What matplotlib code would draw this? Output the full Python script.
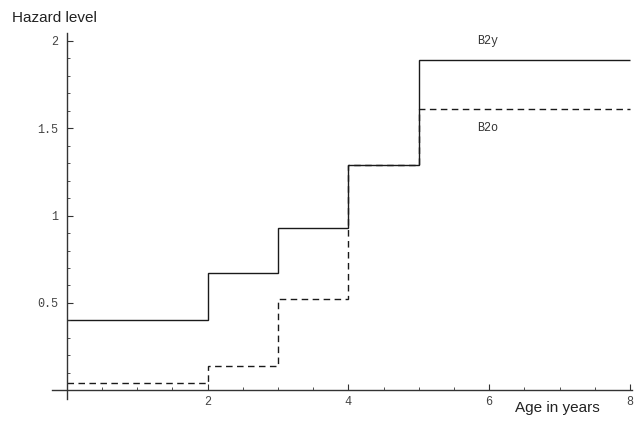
import matplotlib
matplotlib.use("Agg")
import matplotlib.pyplot as plt
from matplotlib.ticker import MultipleLocator, FixedLocator

## Step hazard data
age_edges = [0, 2, 3, 4, 5, 8]
b2y = [0.40, 0.67, 0.93, 1.29, 1.89]
b2o = [0.04, 0.14, 0.52, 1.29, 1.61]
x_ticks = [2, 4, 6, 8]
y_ticks = [0.5, 1, 1.5, 2]
y_tick_labels = ["0.5", "1", "1.5", "2"]

fig = plt.figure(figsize=(6.39, 4.24), dpi=100)
ax = fig.add_axes([52/639, 1 - 399/424, (632 - 52)/639, (399 - 33)/424])

ax.stairs(b2y, age_edges, baseline=None, color="#1a1a1a", linewidth=1.0)
ax.stairs(b2o, age_edges, baseline=None, color="#1a1a1a", linewidth=1.0,
          linestyle=(0, (4.7, 3.2)))

ax.text(5.98, 2.0, "B2y", family="Liberation Mono", fontsize=8.5,
        ha="center", va="center", color="#333")
ax.text(5.98, 1.5, "B2o", family="Liberation Mono", fontsize=8.5,
        ha="center", va="center", color="#333")

ax.set_xlim(-0.21, 8.03)
ax.set_ylim(-0.05, 2.045)

## Mathematica style axes crossing at the origin
for s in ["top", "right"]:
    ax.spines[s].set_visible(False)
ax.spines["bottom"].set_position(("data", 0))
ax.spines["left"].set_position(("data", 0))
for s in ["bottom", "left"]:
    ax.spines[s].set_color("#333")
    ax.spines[s].set_linewidth(1.0)

ax.xaxis.set_major_locator(FixedLocator(x_ticks))
ax.xaxis.set_minor_locator(MultipleLocator(0.5))
ax.yaxis.set_major_locator(FixedLocator(y_ticks))
ax.yaxis.set_minor_locator(MultipleLocator(0.1))
ax.set_yticklabels(y_tick_labels)

ax.tick_params(axis="both", which="major", direction="in", length=4,
               width=0.8, color="#333", labelsize=8.5, labelcolor="#444")
ax.tick_params(axis="both", which="minor", direction="in", length=2.2,
               width=0.6, color="#333")
ax.tick_params(axis="x", pad=4)
ax.tick_params(axis="y", pad=6)
for lab in ax.get_xticklabels() + ax.get_yticklabels():
    lab.set_family("Liberation Mono")

fig.text(12/639, 1 - 18/424, "Hazard level", family="Liberation Sans",
         fontsize=11, ha="left", va="center", color="#222")
fig.text(557/639, 1 - 408/424, "Age in years", family="Liberation Sans",
         fontsize=11, ha="center", va="center", color="#222")

fig.savefig("out.png", dpi=100)
